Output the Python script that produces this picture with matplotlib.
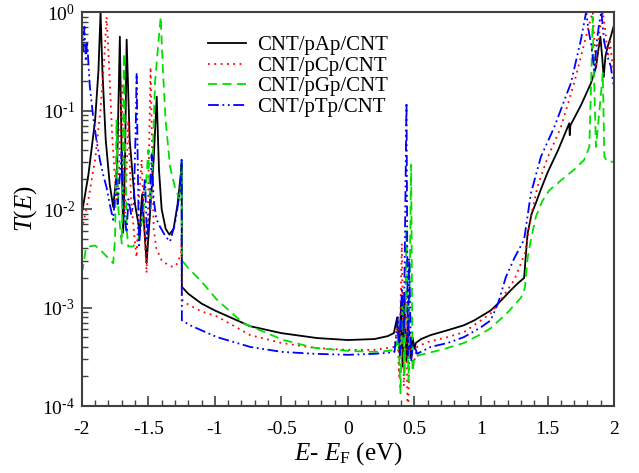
import numpy as np
import matplotlib
matplotlib.use("Agg")
import matplotlib.pyplot as plt
from matplotlib.ticker import MultipleLocator, LogLocator, FuncFormatter, NullFormatter

plt.rcParams['font.family'] = ['Liberation Serif', 'DejaVu Serif']
plt.rcParams['mathtext.fontset'] = 'custom'
plt.rcParams['mathtext.rm'] = 'Liberation Serif'
plt.rcParams['mathtext.it'] = 'Liberation Serif:italic'
plt.rcParams['axes.unicode_minus'] = False

labels = ['CNT/pAp/CNT', 'CNT/pCp/CNT', 'CNT/pGp/CNT', 'CNT/pTp/CNT']
xtick_vals = [-2, -1.5, -1, -0.5, 0, 0.5, 1, 1.5, 2]
xtick_labels = ['-2', '-1.5', '-1', '-0.5', '0', '0.5', '1', '1.5', '2']

# energies (eV) and log10 T(E)
E_pAp = [-2.0, -1.95, -1.9, -1.875, -1.859, -1.845, -1.82, -1.79, -1.764, -1.735, -1.714, -1.70,
         -1.689, -1.675, -1.663, -1.64, -1.60, -1.575, -1.563, -1.555, -1.546, -1.53, -1.513, -1.49,
         -1.46, -1.437, -1.42, -1.40, -1.37, -1.342, -1.31, -1.28, -1.26, -1.249, -1.248, -1.2, -1.1,
         -1.0, -0.734, -0.5, -0.232, 0.0, 0.2, 0.3, 0.345, 0.37, 0.385, 0.40, 0.41, 0.425, 0.44,
         0.455, 0.47, 0.485, 0.50, 0.51, 0.55, 0.621, 0.75, 0.872, 0.95, 1.073, 1.15, 1.22, 1.28,
         1.324, 1.335, 1.35, 1.38, 1.412, 1.45, 1.5, 1.58, 1.663, 1.667, 1.672, 1.75, 1.827, 1.864,
         1.88, 1.897, 1.91, 1.922, 1.935, 1.952, 1.975, 2.0]
logT_pAp = [-2.05, -1.65, -1.1, -0.6, 0.0, -0.6, -1.3, -1.75, -1.98, -1.6, -0.25, -1.5,
            -2.24, -1.5, -0.28, -1.3, -1.95, -2.15, -2.24, -2.0, -1.85, -2.2, -2.55, -2.1,
            -1.5, -0.86, -1.6, -2.0, -2.2, -2.26, -2.2, -1.95, -1.7, -1.53, -2.79, -2.86, -2.96,
            -3.03, -3.19, -3.26, -3.31, -3.33, -3.32, -3.29, -3.26, -3.1, -3.45, -2.95, -3.6, -2.85, -3.55,
            -3.1, -3.5, -3.3, -3.42, -3.36, -3.32, -3.28, -3.23, -3.18, -3.13, -3.03, -2.93, -2.83, -2.75,
            -2.70, -2.5, -2.25, -2.05, -1.94, -1.8, -1.63, -1.40, -1.13, -1.25, -1.15, -0.95, -0.72, -0.56,
            -0.4, -0.25, -0.45, -0.66, -0.45, -0.35, -0.25, -0.13]

E_pCp = [-2.0, -1.95, -1.9, -1.86, -1.83, -1.814, -1.80, -1.77, -1.739, -1.72, -1.70, -1.69,
         -1.678, -1.665, -1.651, -1.63, -1.60, -1.588, -1.57, -1.55, -1.53, -1.513, -1.50, -1.483,
         -1.47, -1.46, -1.44, -1.40, -1.35, -1.312, -1.28, -1.255, -1.25, -1.248, -1.2, -1.1, -0.985,
         -0.734, -0.5, -0.25, 0.0, 0.2, 0.3, 0.35, 0.37, 0.385, 0.405, 0.42, 0.435, 0.45, 0.465,
         0.49, 0.52, 0.6, 0.75, 0.872, 1.0, 1.073, 1.15, 1.25, 1.33, 1.38, 1.425, 1.5, 1.6, 1.70,
         1.776, 1.814, 1.84, 1.852, 1.864, 1.89, 1.915, 1.935, 1.952, 1.97, 1.985, 2.0]
logT_pCp = [-2.21, -1.9, -1.5, -1.0, -0.45, -0.05, -0.4, -1.3, -1.91, -1.6, -0.72, -1.5,
            -2.04, -1.7, -1.10, -1.9, -2.35, -2.49, -1.9, -1.5, -2.2, -2.65, -1.8, -0.56,
            -1.5, -2.2, -2.4, -2.52, -2.57, -2.59, -2.55, -2.45, -2.3, -2.92, -2.97, -3.04, -3.09,
            -3.28, -3.36, -3.41, -3.43, -3.43, -3.41, -3.40, -3.2, -3.7, -2.35, -3.8, -2.9, -4.2, -3.3,
            -3.6, -3.40, -3.35, -3.3, -3.25, -3.13, -3.06, -2.92, -2.72, -2.45, -2.05, -1.77, -1.48, -1.17, -0.72,
            -0.32, -0.12, 0.0, -0.3, -0.56, -0.2, 0.0, -0.2, -0.46, -0.3, -0.5, -0.6]

E_pGp = [-2.0, -1.985, -1.97, -1.94, -1.90, -1.85, -1.80, -1.764, -1.75, -1.739, -1.725, -1.70,
         -1.69, -1.684, -1.675, -1.663, -1.651, -1.613, -1.575, -1.545, -1.52, -1.50, -1.485, -1.47,
         -1.45, -1.43, -1.407, -1.39, -1.37, -1.337, -1.30, -1.262, -1.25, -1.248, -1.2, -1.111,
         -0.985, -0.785, -0.484, -0.25, 0.0, 0.2, 0.3, 0.35, 0.38, 0.395, 0.41, 0.425, 0.44, 0.455,
         0.475, 0.485, 0.50, 0.546, 0.7, 0.872, 1.0, 1.073, 1.2, 1.3, 1.33, 1.35, 1.375, 1.412, 1.46,
         1.513, 1.6, 1.7, 1.776, 1.814, 1.83, 1.839, 1.85, 1.864, 1.89, 1.915, 1.927, 1.95, 2.0]
logT_pGp = [-2.65, -2.55, -2.4, -2.38, -2.37, -2.43, -2.50, -2.55, -2.3, -1.10, -2.0, -2.35,
            -1.5, -0.42, -1.3, -2.2, -2.38, -2.38, -2.3, -2.11, -1.8, -1.40, -2.0, -1.6,
            -0.72, -0.4, -0.05, -0.6, -1.1, -1.57, -1.78, -1.91, -1.53, -2.52, -2.6, -2.72,
            -2.92, -3.16, -3.33, -3.41, -3.44, -3.45, -3.44, -3.43, -3.3, -3.87, -2.9, -3.7, -2.2, -3.75,
            -1.55, -3.65, -3.5, -3.48, -3.43, -3.36, -3.27, -3.21, -3.05, -2.9, -2.8, -2.5, -2.31, -2.08, -1.92,
            -1.81, -1.71, -1.6, -1.5, -1.37, -0.6, -0.05, -0.7, -1.37, -1.0, -0.62, -1.47, -1.52, -1.52]

E_pTp = [-2.0, -1.99, -1.98, -1.97, -1.96, -1.94, -1.915, -1.89, -1.864, -1.84, -1.814, -1.79,
         -1.764, -1.75, -1.74, -1.73, -1.70, -1.685, -1.663, -1.65, -1.63, -1.61, -1.595, -1.588,
         -1.58, -1.57, -1.545, -1.525, -1.51, -1.49, -1.475, -1.46, -1.44, -1.412, -1.37, -1.337,
         -1.30, -1.287, -1.26, -1.25, -1.248, -1.187, -0.985, -0.734, -0.5, -0.25, 0.0, 0.2, 0.3,
         0.35, 0.375, 0.39, 0.405, 0.42, 0.44, 0.45, 0.46, 0.475, 0.49, 0.52, 0.621, 0.75, 0.872,
         1.0, 1.073, 1.13, 1.187, 1.25, 1.324, 1.375, 1.45, 1.55, 1.676, 1.751, 1.79, 1.81, 1.827,
         1.852, 1.87, 1.89, 1.905, 1.925, 1.952, 1.975, 2.0]
logT_pTp = [-0.05, -0.4, -0.15, -0.5, -0.3, -0.75, -1.06, -1.3, -1.50, -1.65, -1.78, -1.95,
            -2.11, -1.85, -1.7, -1.95, -1.42, -2.0, -2.24, -1.9, -2.05, -1.95, -1.2, -0.62,
            -1.5, -2.37, -2.0, -1.69, -2.3, -2.0, -1.45, -1.9, -2.1, -2.18, -2.28, -2.33,
            -2.15, -2.04, -1.8, -1.5, -3.13, -3.18, -3.30, -3.40, -3.45, -3.47, -3.48, -3.47, -3.46,
            -3.45, -3.1, -3.5, -2.8, -3.3, -0.92, -3.5, -2.5, -3.55, -3.35, -3.47, -3.40, -3.36, -3.30,
            -3.2, -3.13, -2.95, -2.69, -2.5, -2.31, -1.84, -1.47, -1.17, -0.72, -0.28, 0.0, -0.2, -0.32,
            -0.59, -0.3, -0.1, 0.0, -0.3, -0.46, -0.55, -0.78]

fig = plt.figure(figsize=(6.39, 4.73), dpi=100)
ax = fig.add_axes([0.128, 0.1416, 0.833, 0.833])

lw = 1.3
ax.plot(E_pAp, np.power(10.0, logT_pAp), color='black', lw=lw, label=labels[0])
ax.plot(E_pCp, np.power(10.0, logT_pCp), color='#ff0000', lw=lw, ls=(0, (1, 2.5)), label=labels[1])
ax.plot(E_pGp, np.power(10.0, logT_pGp), color='#00e000', lw=lw, ls=(0, (5, 3)), label=labels[2])
ax.plot(E_pTp, np.power(10.0, logT_pTp), color='#0000ff', lw=lw, ls=(0, (6, 2, 1, 2, 1, 2)), label=labels[3])

ax.set_yscale('log')
ax.set_xlim(-2, 2)
ax.set_ylim(1e-4, 1)

ax.set_xticks(xtick_vals)
ax.set_xticklabels(xtick_labels)
ax.xaxis.set_minor_locator(MultipleLocator(0.1))
ax.yaxis.set_major_locator(LogLocator(base=10))
ax.yaxis.set_major_formatter(FuncFormatter(lambda v, p: r'$10^{\text{%d}}$' % round(np.log10(v))))
ax.yaxis.set_minor_locator(LogLocator(base=10, subs=np.arange(2, 10)))
ax.yaxis.set_minor_formatter(NullFormatter())

ax.tick_params(which='both', direction='in', top=False, right=False, labelsize=14, color='#404040')
ax.tick_params(which='major', length=7, width=1.2)
ax.tick_params(which='minor', length=4, width=1.0)
ax.tick_params(axis='x', which='major', pad=11)
ax.tick_params(axis='y', which='major', pad=5)
for s in ax.spines.values():
    s.set_linewidth(1.5)
    s.set_color('#404040')

ax.set_xlabel(r'$E$- $E_{\rm F}$ (eV)', fontsize=18, labelpad=1)
ax.set_ylabel(r'$T(E)$', fontsize=18, labelpad=2.5)

ax.legend(loc='upper left', bbox_to_anchor=(0.237, 0.94), frameon=False, fontsize=15,
          handlelength=1.85, handletextpad=0.5, labelspacing=0.05, borderpad=0, borderaxespad=0)

fig.savefig('out.png', dpi=100)
